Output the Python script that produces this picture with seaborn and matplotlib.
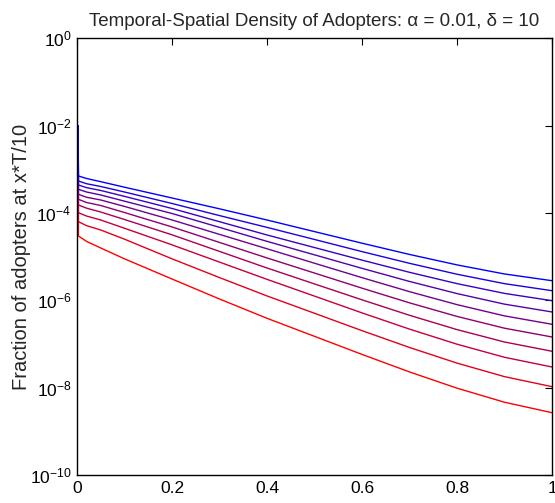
import numpy as np
import pandas as pd
import matplotlib
matplotlib.use("Agg")
import matplotlib.pyplot as plt
import seaborn as sns
from matplotlib.ticker import FixedLocator, FixedFormatter

sns.set_style("white")
plt.rcParams['font.family'] = ['Liberation Sans', 'DejaVu Sans']
plt.rcParams['mathtext.fontset'] = 'custom'
plt.rcParams['mathtext.rm'] = 'Liberation Sans'
plt.rcParams['mathtext.it'] = 'Liberation Sans:italic'

# ---- data, stored as log10 of the fraction ----
x_vals = [0.0025, 0.003, 0.02, 0.05, 0.1, 0.2, 0.3, 0.4, 0.5, 0.6, 0.7, 0.8, 0.9, 1.0]
start_log = -2.0   # every curve begins at 1e-2 at x = 0
L0 = [-3.153, -3.21, -3.284, -3.41, -3.657, -3.905, -4.161, -4.427, -4.692, -4.950, -5.189, -5.397, -5.551]
L1 = [-3.268, -3.33, -3.394, -3.52, -3.783, -4.06, -4.33, -4.607, -4.885, -5.153, -5.403, -5.619, -5.780]
L2 = [-3.359, -3.42, -3.485, -3.62, -3.897, -4.20, -4.504, -4.792, -5.080, -5.359, -5.618, -5.842, -6.009]
L3 = [-3.458, -3.52, -3.588, -3.73, -4.012, -4.33, -4.65, -4.959, -5.268, -5.568, -5.846, -6.088, -6.267]
L4 = [-3.572, -3.64, -3.703, -3.85, -4.16, -4.49, -4.82, -5.151, -5.481, -5.802, -6.099, -6.357, -6.549]
L5 = [-3.687, -3.76, -3.829, -3.99, -4.32, -4.675, -5.03, -5.376, -5.722, -6.058, -6.369, -6.639, -6.840]
L6 = [-3.817, -3.89, -3.978, -4.15, -4.50, -4.88, -5.26, -5.625, -5.989, -6.343, -6.671, -6.955, -7.167]
L7 = [-3.994, -4.07, -4.161, -4.35, -4.73, -5.125, -5.52, -5.904, -6.288, -6.660, -7.005, -7.305, -7.527]
L8 = [-4.200, -4.29, -4.390, -4.60, -5.05, -5.48, -5.90, -6.297, -6.695, -7.080, -7.438, -7.748, -7.978]
L9 = [-4.527, -4.65, -4.802, -5.05, -5.512, -5.97, -6.412, -6.825, -7.239, -7.640, -8.012, -8.334, -8.574]
series = [L0, L1, L2, L3, L4, L5, L6, L7, L8, L9]
names = [f"t{i+1}" for i in range(len(series))]

x_ticks = [0, 0.2, 0.4, 0.6, 0.8, 1]
x_ticklabels = ["0", "0.2", "0.4", "0.6", "0.8", "1"]
y_ticks = [1e0, 1e-2, 1e-4, 1e-6, 1e-8, 1e-10]
y_ticklabels = [r"$10^{0}$", r"$10^{-2}$", r"$10^{-4}$", r"$10^{-6}$", r"$10^{-8}$", r"$10^{-10}$"]

rows = []
for name, s in zip(names, series):
    logs = [start_log] + s
    for xv, lv in zip(x_vals, logs):
        rows.append({"x": xv, "y": 10.0 ** lv, "line": name})
df = pd.DataFrame(rows)

n = len(series)
colors = {names[k]: (k / (n - 1), 0.0, 1 - k / (n - 1)) for k in range(n)}

fig = plt.figure(figsize=(5.55, 5.03), dpi=100)
ax = fig.add_axes([0.1387, 0.0557, 0.8559, 0.8682])

sns.lineplot(data=df, x="x", y="y", hue="line", hue_order=names[::-1],
             palette=colors, estimator=None, sort=False, legend=False,
             linewidth=1.0, ax=ax)

ax.set_yscale("log")
ax.set_xlim(0, 1)
ax.set_ylim(1e-10, 1e0)
ax.yaxis.set_major_locator(FixedLocator(y_ticks))
ax.yaxis.set_major_formatter(FixedFormatter(y_ticklabels))
ax.yaxis.set_minor_locator(FixedLocator([]))
ax.set_xticks(x_ticks)
ax.set_xticklabels(x_ticklabels)

ax.tick_params(direction="in", length=5, width=0.8, top=True, right=True,
               labelsize=12.5, colors="black", pad=4)
for sp in ax.spines.values():
    sp.set_visible(True)
    sp.set_color("black")
    sp.set_linewidth(1.0)

ax.set_xlabel("")
ax.set_ylabel("Fraction of adopters at x*T/10", fontsize=14.5)
ax.yaxis.set_label_coords(-0.097, 0.5)
ax.set_title("Temporal-Spatial Density of Adopters: α = 0.01, δ = 10",
             fontsize=13.5, pad=9)

fig.savefig("out.png", dpi=100)
